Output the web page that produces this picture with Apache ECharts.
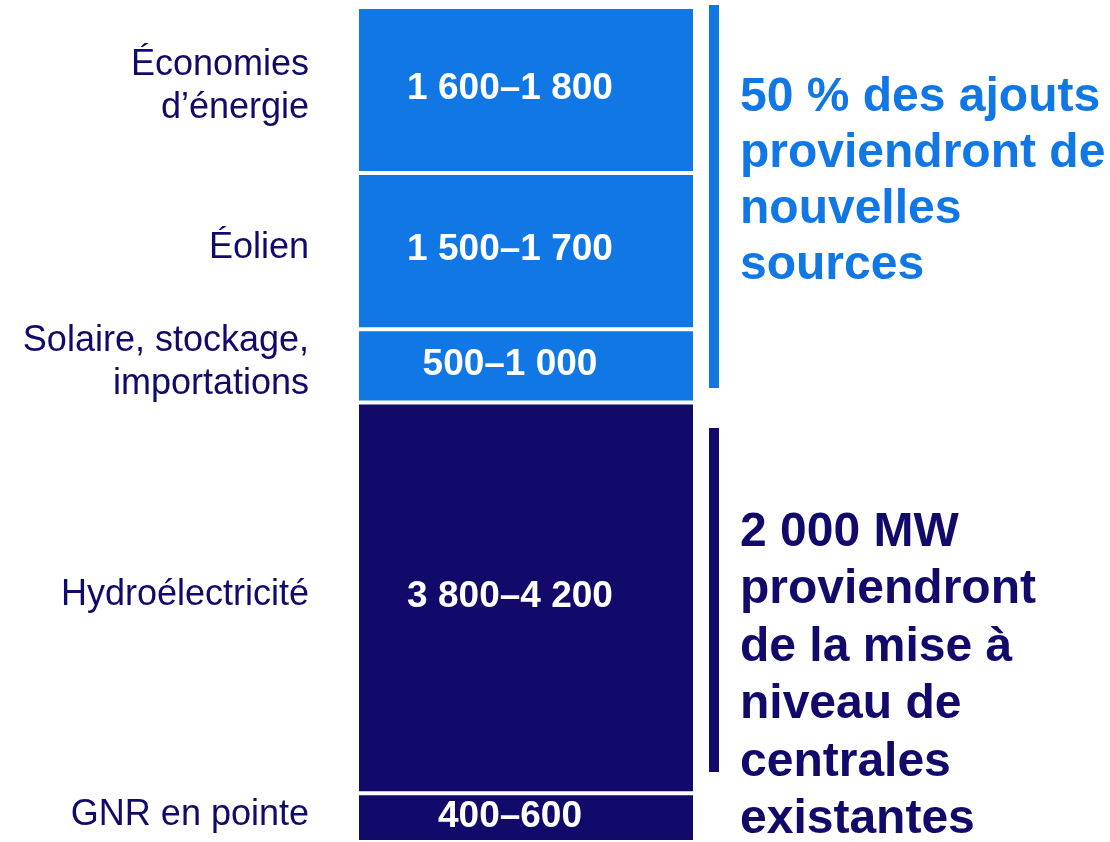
<!DOCTYPE html>
<html>
<head>
<meta charset="utf-8">
<script src="https://cdn.jsdelivr.net/npm/echarts@6/dist/echarts.min.js"></script>
<style>
html, body { margin: 0; padding: 0; background: #fff; }
#chart { width: 1110px; height: 842px; }
</style>
</head>
<body>
<div id="chart"></div>
<script>
// segments from top to bottom of the column
var sources = ['Économies\nd’énergie', 'Éolien', 'Solaire, stockage,\nimportations', 'Hydroélectricité', 'GNR en pointe'];
var rangeLabels = ['1 600–1 800', '1 500–1 700', '500–1 000', '3 800–4 200', '400–600'];
var lowMW = [1600, 1500, 500, 3800, 400];
var highMW = [1800, 1700, 1000, 4200, 600];
var groups = ['new', 'new', 'new', 'existing', 'existing'];

var noteNew = '50 % des ajouts\nproviendront de\nnouvelles\nsources';
var noteExisting = '2 000 MW\nproviendront\nde la mise à\nniveau de\ncentrales\nexistantes';

var LIGHT = '#1077e4';
var NAVY = '#110a6b';
var FONT = '"Liberation Sans", Arial, sans-serif';

var total = 0;
var series = [];
// stack order: first series sits at the bottom
for (var i = sources.length - 1; i >= 0; i--) {
	var mid = (lowMW[i] + highMW[i]) / 2;
	total += mid;
	var col = groups[i] == 'new' ? LIGHT : NAVY;
	series.push({
		name: rangeLabels[i],
		type: 'bar',
		stack: 'mw',
		barWidth: '100%',
		itemStyle: {color: col, borderColor: '#fff', borderWidth: 2},
		label: {
			show: true,
			position: 'inside',
			formatter: rangeLabels[i],
			color: '#fff',
			fontFamily: FONT,
			fontWeight: 'bold',
			fontSize: 37,
			offset: [-16, -1]
		},
		data: [mid]
	});
	// invisible twin, only there to carry the name on the left
	series.push({
		name: sources[i],
		type: 'bar',
		stack: 'names',
		barWidth: '100%',
		barGap: '-100%',
		itemStyle: {color: 'rgba(0,0,0,0)'},
		label: {
			show: true,
			position: 'left',
			distance: 48,
			formatter: sources[i],
			color: NAVY,
			fontFamily: FONT,
			fontSize: 36,
			lineHeight: 43,
			offset: [0, -3]
		},
		data: [mid]
	});
}

var chart = echarts.init(document.getElementById('chart'));
chart.setOption({
	animation: false,
	grid: {left: 357, width: 338, top: 7, height: 840},
	xAxis: {type: 'category', data: ['MW'], show: false},
	yAxis: {type: 'value', min: 0, max: total, show: false},
	series: series,
	graphic: [
		{type: 'rect', shape: {x: 709, y: 5, width: 10, height: 383}, style: {fill: LIGHT}},
		{type: 'rect', shape: {x: 709, y: 428, width: 10, height: 344}, style: {fill: NAVY}},
		{
			type: 'text', left: 740, top: 70,
			style: {text: noteNew, fill: LIGHT, font: 'bold 48px ' + FONT, lineHeight: 56}
		},
		{
			type: 'text', left: 740, top: 504,
			style: {text: noteExisting, fill: NAVY, font: 'bold 48px ' + FONT, lineHeight: 57.5}
		}
	]
});
</script>
</body>
</html>
